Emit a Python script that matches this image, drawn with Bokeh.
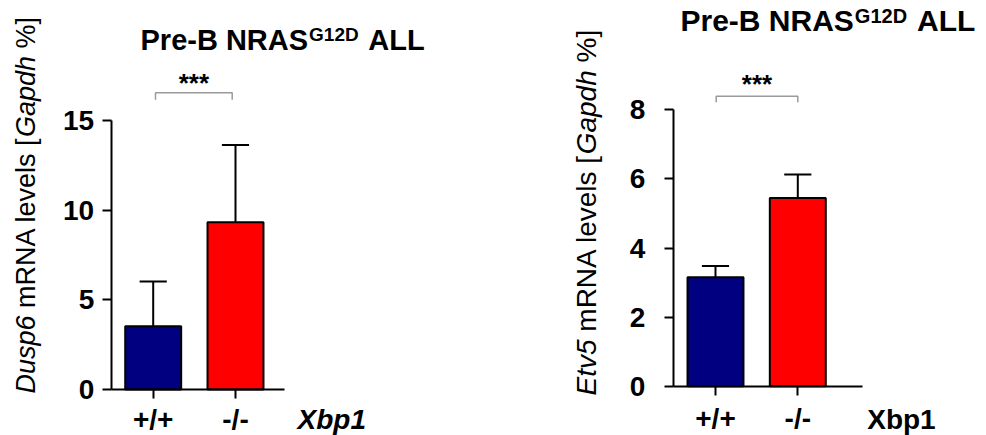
import math
from bokeh.plotting import figure
from bokeh.models import LinearAxis, Range1d, FixedTicker, Label, ColumnDataSource
from bokeh.layouts import row
from bokeh.embed import file_html
from bokeh.resources import INLINE

# ---------------- data ----------------
categories = ["+/+", "-/-"]
bar_colors = ["#000080", "#ff0000"]

dusp6_mean = [3.53, 9.33]
dusp6_sd = [2.49, 4.31]
dusp6_ticks = [0, 5, 10, 15]

etv5_mean = [3.15, 5.45]
etv5_sd = [0.33, 0.68]
etv5_ticks = [0, 2, 4, 6, 8]

significance = "***"
title_main = "Pre-B NRAS"
title_sup = "G12D"
title_end = "ALL"
gene_label = "Xbp1"
FONT = "Liberation Sans"


def make_panel(W, cat_px, yaxis_px, y0_px, ytop_px, ymax, ticks, means, sds,
               xaxis_end_px, ylabel_parts, ylabel_x_px, ylabel_start_px, ylabel_size,
               title_x_px, title_mid_px, title_size, sup_size,
               bracket_px, star_mid_px, xbp_x_px, xbp_italic, ytick_standoff, xtick_standoff):
    H = 435
    ppx = cat_px[1] - cat_px[0]
    ppy = (y0_px - ytop_px) / ymax

    def dx(px):
        return (px - cat_px[0]) / ppx

    def dy(py):
        return (y0_px - py) / ppy

    p = figure(width=W, height=H, output_backend="svg", toolbar_location=None,
               x_range=Range1d(dx(0), dx(W)), y_range=Range1d(dy(H), dy(0)),
               x_axis_location=None, y_axis_location=None, title=None,
               min_border=0, min_border_left=0, min_border_right=0,
               min_border_top=0, min_border_bottom=0)
    p.outline_line_color = None
    p.xgrid.visible = False
    p.ygrid.visible = False
    p.background_fill_color = "white"
    p.border_fill_color = "white"

    xs = list(range(len(categories)))
    src = ColumnDataSource(dict(x=xs, top=means, color=bar_colors,
                                err=[m + s for m, s in zip(means, sds)],
                                c0=[x - 0.165 for x in xs], c1=[x + 0.165 for x in xs]))

    # error bars (upper only)
    p.segment(x0="x", y0="top", x1="x", y1="err", source=src, line_color="black", line_width=2)
    p.segment(x0="c0", y0="err", x1="c1", y1="err", source=src, line_color="black", line_width=2)
    # bars
    p.vbar(x="x", top="top", bottom=0, width=0.68, source=src, fill_color="color",
           line_color="black", line_width=2)

    # axes
    yax = LinearAxis(fixed_location=dx(yaxis_px), bounds=(0, ymax), ticker=FixedTicker(ticks=ticks))
    xax = LinearAxis(fixed_location=0, bounds=(dx(yaxis_px), dx(xaxis_end_px)),
                     ticker=FixedTicker(ticks=xs),
                     major_label_overrides={i: c for i, c in enumerate(categories)})
    for ax in (yax, xax):
        ax.axis_line_width = 2
        ax.axis_line_color = "black"
        ax.major_tick_line_width = 2
        ax.major_tick_line_color = "black"
        ax.major_tick_out = 9
        ax.major_tick_in = 0
        ax.minor_tick_line_color = None
        ax.major_label_text_font = FONT
        ax.major_label_text_font_style = "bold"
        ax.major_label_text_font_size = "28px"
        ax.major_label_text_color = "black"
    yax.major_label_standoff = ytick_standoff
    xax.major_label_standoff = xtick_standoff
    p.add_layout(yax, "left")
    p.add_layout(xax, "below")

    # y axis label (mixed italic), rotated
    pos = ylabel_start_px
    for text, style, adv in ylabel_parts:
        if text:
            p.add_layout(Label(x=dx(ylabel_x_px), y=dy(pos), text=text, angle=math.pi / 2,
                               text_font=FONT, text_font_style=style,
                               text_font_size=f"{ylabel_size}px", text_align="left",
                               text_baseline="middle", text_color="black"))
        pos -= adv * ylabel_size / 1000.0

    # title with superscript
    w_main = 5778 * title_size / 1000.0
    w_sup = 2612 * sup_size / 1000.0
    p.add_layout(Label(x=dx(title_x_px), y=dy(title_mid_px), text=title_main,
                       text_font=FONT, text_font_style="bold", text_font_size=f"{title_size}px",
                       text_align="left", text_baseline="middle", text_color="black"))
    sup_x = title_x_px + w_main + 1
    sup_mid = title_mid_px - 0.358 * title_size + 0.358 * sup_size - 1
    p.add_layout(Label(x=dx(sup_x), y=dy(sup_mid), text=title_sup,
                       text_font=FONT, text_font_style="bold", text_font_size=f"{sup_size}px",
                       text_align="left", text_baseline="middle", text_color="black"))
    p.add_layout(Label(x=dx(sup_x + w_sup + 0.33 * title_size), y=dy(title_mid_px), text=title_end,
                       text_font=FONT, text_font_style="bold", text_font_size=f"{title_size}px",
                       text_align="left", text_baseline="middle", text_color="black"))

    # significance bracket
    bx0, bx1, by_top, by_low = bracket_px
    p.line(x=[dx(bx0), dx(bx0), dx(bx1), dx(bx1)], y=[dy(by_low), dy(by_top), dy(by_top), dy(by_low)],
           line_color="#9a9a9a", line_width=1.5)
    p.add_layout(Label(x=dx((bx0 + bx1) / 2), y=dy(star_mid_px), text=significance,
                       text_font=FONT, text_font_style="bold", text_font_size="26px",
                       text_align="center", text_baseline="middle", text_color="black"))

    # gene name next to the x tick labels
    p.add_layout(Label(x=dx(xbp_x_px), y=dy(419), text=gene_label, text_font=FONT,
                       text_font_style="bold italic" if xbp_italic else "bold",
                       text_font_size="28px", text_align="left", text_baseline="middle",
                       text_color="black"))
    return p


left_parts = [("Dusp6", "italic", 2890), ("", "normal", 278), ("mRNA levels [", "normal", 6334),
              ("Gapdh", "italic", 3002), ("", "normal", 278), ("%]", "normal", 1167)]
right_parts = [("Etv5", "italic", 2001), ("", "normal", 278), ("mRNA levels [", "normal", 6334),
               ("Gapdh", "italic", 3002), ("", "normal", 278), ("%]", "normal", 1167)]

p1 = make_panel(W=530, cat_px=(152.7, 235.0), yaxis_px=110.7, y0_px=389.0, ytop_px=120.0, ymax=15,
                ticks=dusp6_ticks, means=dusp6_mean, sds=dusp6_sd, xaxis_end_px=284.0,
                ylabel_parts=left_parts, ylabel_x_px=25.0, ylabel_start_px=393.0, ylabel_size=27,
                title_x_px=140.0, title_mid_px=39.0, title_size=29, sup_size=19,
                bracket_px=(155.0, 231.7, 92.3, 99.3), star_mid_px=82.5,
                xbp_x_px=297.0, xbp_italic=True, ytick_standoff=8, xtick_standoff=5)

p2 = make_panel(W=456, cat_px=(185.0, 267.3), yaxis_px=142.7, y0_px=385.7, ytop_px=109.3, ymax=8,
                ticks=etv5_ticks, means=etv5_mean, sds=etv5_sd, xaxis_end_px=331.7,
                ylabel_parts=right_parts, ylabel_x_px=56.0, ylabel_start_px=395.0, ylabel_size=28,
                title_x_px=150.0, title_mid_px=20.0, title_size=30, sup_size=20,
                bracket_px=(185.7, 267.3, 95.7, 101.7), star_mid_px=83.5,
                xbp_x_px=336.7, xbp_italic=False, ytick_standoff=19, xtick_standoff=8)

layout = row(p1, p2)
open("out.html", "w").write(file_html(layout, INLINE))
